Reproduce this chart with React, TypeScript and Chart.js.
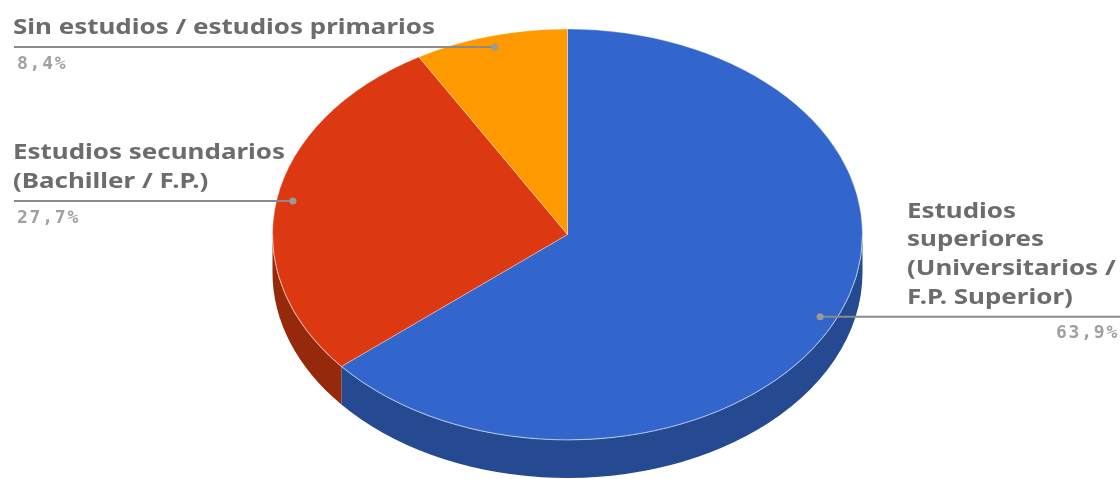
import { useEffect, useRef } from "react";
import { Chart, registerables } from "chart.js";

Chart.register(...registerables);

const categories = [
  "Estudios superiores (Universitarios / F.P. Superior)",
  "Estudios secundarios (Bachiller / F.P.)",
  "Sin estudios / estudios primarios",
];
const labelLines = [
  ["Estudios", "superiores", "(Universitarios /", "F.P. Superior)"],
  ["Estudios secundarios", "(Bachiller / F.P.)"],
  ["Sin estudios / estudios primarios"],
];
const values = [63.9, 27.7, 8.4];
const valueLabels = ["63,9%", "27,7%", "8,4%"];
const labelSide = ["right", "left", "left"];
const topColors = ["#3366cc", "#dc3912", "#ff9900"];
const sideColors = ["#254a91", "#96290c", "#b06a00"];

// 3D projection settings
const CX = 567.5;
const CY = 234.5;
const RX = 295;
const RY = 205.5;
const DEPTH = 38;
const DOT_R = 0.945;

const W = 1120;
const H = 479;

const LABEL_FONT = "bold 21px 'Noto Sans', 'Open Sans', sans-serif";
const REF_TEXT_WIDTH = 422; // width of the longest single-line label

function getArcs(chart: any) {
  const meta = chart.getDatasetMeta(0);
  return meta.data.map((el: any) =>
    el.getProps(["x", "y", "startAngle", "endAngle", "outerRadius"], true)
  );
}

const pie3d = {
  id: "pie3d",
  beforeDatasetsDraw(chart: any) {
    const ctx = chart.ctx as CanvasRenderingContext2D;
    const arcs = getArcs(chart);
    if (!arcs.length) return;
    arcs.forEach((a: any, i: number) => {
      const s = Math.max(a.startAngle, 0);
      const e = Math.min(a.endAngle, Math.PI);
      if (e <= s) return;
      ctx.save();
      ctx.beginPath();
      ctx.ellipse(CX, CY, RX, RY, 0, s, e, false);
      ctx.ellipse(CX, CY + DEPTH, RX, RY, 0, e, s, true);
      ctx.closePath();
      ctx.fillStyle = sideColors[i];
      ctx.fill();
      ctx.restore();
    });
    const { x, y, outerRadius } = arcs[0];
    ctx.save();
    ctx.translate(CX, CY);
    ctx.scale(RX / outerRadius, RY / outerRadius);
    ctx.translate(-x, -y);
  },
  afterDatasetsDraw(chart: any) {
    const ctx = chart.ctx as CanvasRenderingContext2D;
    ctx.restore();
    ctx.save();
    ctx.beginPath();
    ctx.ellipse(CX, CY, RX, RY, 0, 0, Math.PI, false);
    ctx.strokeStyle = "rgba(255,255,255,0.35)";
    ctx.lineWidth = 1;
    ctx.stroke();
    ctx.restore();

    ctx.save();
    ctx.font = LABEL_FONT;
    const stretch = REF_TEXT_WIDTH / ctx.measureText(labelLines[2][0]).width;
    ctx.restore();

    const arcs = getArcs(chart);
    arcs.forEach((a: any, i: number) => {
      const mid = (a.startAngle + a.endAngle) / 2;
      const px = CX + RX * DOT_R * Math.cos(mid);
      const py = CY + RY * DOT_R * Math.sin(mid);
      const left = labelSide[i] === "left";
      ctx.save();
      ctx.strokeStyle = "#8a8a8a";
      ctx.lineWidth = 2;
      ctx.beginPath();
      if (left) {
        ctx.moveTo(14, py);
        ctx.lineTo(px, py);
      } else {
        ctx.moveTo(px, py);
        ctx.lineTo(W, py);
      }
      ctx.stroke();
      ctx.fillStyle = "#9a9a9a";
      ctx.beginPath();
      ctx.arc(px, py, 3.5, 0, Math.PI * 2);
      ctx.fill();

      ctx.font = LABEL_FONT;
      ctx.fillStyle = "#6c6c6c";
      ctx.textBaseline = "middle";
      ctx.textAlign = "left";
      const lines = labelLines[i];
      const tx = left ? 13 : 907;
      lines.forEach((ln, k) => {
        const ty = py - 19 - (lines.length - 1 - k) * 28.7;
        ctx.save();
        ctx.translate(tx, ty);
        ctx.scale(stretch, 1);
        ctx.fillText(ln, 0, 0);
        ctx.restore();
      });

      ctx.font = "bold 18px 'DejaVu Sans Mono', monospace";
      ctx.fillStyle = "#a0a0a0";
      const str = valueLabels[i];
      const adv = 12.6;
      const total = adv * str.length;
      const vx = left ? 17 : W - 1 - total;
      for (let c = 0; c < str.length; c++) {
        ctx.fillText(str[c], vx + c * adv, py + 17);
      }
      ctx.restore();
    });
  },
};

export default function App() {
  const ref = useRef<HTMLCanvasElement | null>(null);
  useEffect(() => {
    if (!ref.current) return;
    const chart = new Chart(ref.current, {
      type: "pie",
      data: {
        labels: categories,
        datasets: [
          {
            data: values,
            backgroundColor: topColors,
            borderColor: "rgba(255,255,255,0.45)",
            borderWidth: 0.7,
            clip: false,
          } as any,
        ],
      },
      options: {
        responsive: false,
        animation: false,
        events: [],
        layout: { padding: 0 },
        plugins: {
          legend: { display: false },
          tooltip: { enabled: false },
          title: { display: false },
        },
      },
      plugins: [pie3d],
    });
    return () => chart.destroy();
  }, []);
  return (
    <div style={{ position: "absolute", left: 0, top: 0, width: W, height: H, background: "#fff" }}>
      <canvas ref={ref} width={W} height={H} style={{ display: "block", width: W, height: H }} />
    </div>
  );
}
